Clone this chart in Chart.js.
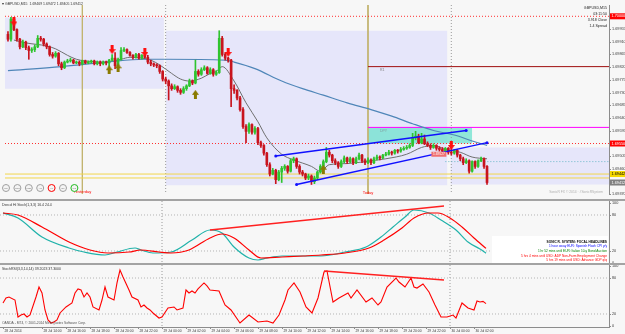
<!DOCTYPE html>
<html>
<head>
<meta charset="utf-8">
<script src="https://cdn.jsdelivr.net/npm/chart.js@4.4.0/dist/chart.umd.min.js"></script>
<style>
body{margin:0;background:#f7f7f7}
#wrap{position:relative;width:625px;height:334px;overflow:hidden;background:#f7f7f7}
#wrap canvas{position:absolute;left:0}
.sep{position:absolute;left:0;width:625px;height:2px;background:#a3a3a3}
</style>
</head>
<body>
<div id="wrap">
  <canvas id="main" width="625" height="199" style="top:0"></canvas>
  <div class="sep" style="top:199px"></div>
  <canvas id="stoch" width="625" height="62" style="top:201px"></canvas>
  <div class="sep" style="top:263px"></div>
  <canvas id="rsi" width="625" height="69" style="top:265px"></canvas>
</div>
<script>
// GBPUSD M15, 28 Jul 10:45 -> 30 Jul 03:00 (one entry per bar)
const opens = [
  1.69936,1.69919,1.69990,1.69953,1.69919,1.69892,1.69909,1.69889,1.69879,1.69882,
  1.69892,1.69922,1.69919,1.69902,1.69892,1.69865,1.69859,1.69869,1.69832,1.69818,
  1.69838,1.69842,1.69845,1.69835,1.69838,1.69832,1.69842,1.69835,1.69838,1.69842,
  1.69832,1.69838,1.69832,1.69838,1.69835,1.69845,1.69852,1.69825,1.69848,1.69879,
  1.69882,1.69872,1.69862,1.69855,1.69865,1.69852,1.69862,1.69855,1.69838,1.69832,
  1.69828,1.69825,1.69805,1.69778,1.69771,1.69754,1.69744,1.69751,1.69738,1.69731,
  1.69744,1.69754,1.69771,1.69764,1.69805,1.69795,1.69811,1.69818,1.69798,1.69811,
  1.69795,1.69801,1.69922,1.69865,1.69852,1.69845,1.69744,1.69738,1.69711,1.69670,
  1.69610,1.69593,1.69617,1.69590,1.69603,1.69553,1.69543,1.69516,1.69475,1.69442,
  1.69455,1.69422,1.69449,1.69462,1.69469,1.69452,1.69489,1.69496,1.69469,1.69449,
  1.69442,1.69428,1.69435,1.69415,1.69428,1.69449,1.69469,1.69486,1.69519,1.69509,
  1.69489,1.69482,1.69469,1.69486,1.69499,1.69486,1.69496,1.69482,1.69496,1.69509,
  1.69489,1.69482,1.69492,1.69482,1.69496,1.69502,1.69499,1.69509,1.69512,1.69519,
  1.69516,1.69526,1.69523,1.69529,1.69533,1.69536,1.69543,1.69570,1.69576,1.69553,
  1.69566,1.69549,1.69543,1.69536,1.69543,1.69533,1.69529,1.69523,1.69533,1.69519,
  1.69516,1.69526,1.69509,1.69496,1.69482,1.69489,1.69452,1.69486,1.69469,1.69489,
  1.69496,1.69469
];
const highs = [
  1.69946,1.69996,1.69993,1.69956,1.69922,1.69916,1.69912,1.69895,1.69889,1.69899,
  1.69932,1.69929,1.69922,1.69906,1.69895,1.69872,1.69875,1.69872,1.69838,1.69842,
  1.69848,1.69852,1.69848,1.69842,1.69842,1.69845,1.69845,1.69842,1.69845,1.69845,
  1.69842,1.69842,1.69842,1.69842,1.69848,1.69865,1.69872,1.69852,1.69889,1.69889,
  1.69885,1.69875,1.69865,1.69869,1.69869,1.69865,1.69865,1.69862,1.69845,1.69835,
  1.69832,1.69828,1.69808,1.69785,1.69775,1.69761,1.69758,1.69754,1.69744,1.69751,
  1.69758,1.69778,1.69775,1.69845,1.69811,1.69818,1.69825,1.69822,1.69818,1.69815,
  1.69808,1.69949,1.69929,1.69872,1.69855,1.69848,1.69758,1.69741,1.69717,1.69677,
  1.69617,1.69623,1.69620,1.69610,1.69607,1.69559,1.69546,1.69519,1.69482,1.69462,
  1.69459,1.69455,1.69469,1.69475,1.69472,1.69496,1.69502,1.69499,1.69475,1.69455,
  1.69445,1.69442,1.69439,1.69435,1.69452,1.69475,1.69492,1.69536,1.69526,1.69512,
  1.69496,1.69486,1.69492,1.69506,1.69502,1.69502,1.69499,1.69502,1.69516,1.69512,
  1.69496,1.69499,1.69496,1.69502,1.69509,1.69506,1.69512,1.69519,1.69526,1.69523,
  1.69529,1.69529,1.69536,1.69539,1.69543,1.69549,1.69586,1.69593,1.69583,1.69586,
  1.69580,1.69556,1.69549,1.69549,1.69546,1.69539,1.69536,1.69536,1.69536,1.69536,
  1.69529,1.69529,1.69512,1.69502,1.69496,1.69492,1.69489,1.69489,1.69492,1.69502,
  1.69499,1.69472
];
const lows = [
  1.69912,1.69912,1.69949,1.69912,1.69885,1.69889,1.69882,1.69848,1.69872,1.69875,
  1.69889,1.69912,1.69895,1.69885,1.69859,1.69852,1.69855,1.69825,1.69811,1.69815,
  1.69835,1.69838,1.69832,1.69832,1.69825,1.69828,1.69832,1.69832,1.69835,1.69828,
  1.69828,1.69825,1.69828,1.69828,1.69818,1.69842,1.69815,1.69822,1.69845,1.69875,
  1.69869,1.69859,1.69848,1.69852,1.69848,1.69848,1.69852,1.69832,1.69825,1.69822,
  1.69818,1.69798,1.69771,1.69761,1.69704,1.69738,1.69741,1.69731,1.69724,1.69727,
  1.69738,1.69751,1.69758,1.69761,1.69788,1.69791,1.69808,1.69795,1.69795,1.69788,
  1.69791,1.69798,1.69859,1.69845,1.69838,1.69680,1.69727,1.69704,1.69664,1.69603,
  1.69553,1.69586,1.69583,1.69583,1.69546,1.69536,1.69509,1.69469,1.69435,1.69439,
  1.69408,1.69418,1.69412,1.69455,1.69445,1.69449,1.69482,1.69462,1.69442,1.69435,
  1.69422,1.69422,1.69405,1.69408,1.69422,1.69445,1.69462,1.69482,1.69502,1.69482,
  1.69475,1.69462,1.69465,1.69482,1.69479,1.69482,1.69475,1.69479,1.69492,1.69482,
  1.69475,1.69479,1.69475,1.69479,1.69492,1.69492,1.69496,1.69506,1.69509,1.69509,
  1.69512,1.69516,1.69519,1.69526,1.69529,1.69533,1.69539,1.69563,1.69549,1.69549,
  1.69546,1.69539,1.69529,1.69533,1.69526,1.69523,1.69519,1.69519,1.69512,1.69509,
  1.69512,1.69502,1.69489,1.69475,1.69479,1.69445,1.69449,1.69462,1.69465,1.69486,
  1.69462,1.69405
];
const closes = [
  1.69919,1.69990,1.69953,1.69919,1.69892,1.69909,1.69889,1.69879,1.69882,1.69892,
  1.69922,1.69919,1.69902,1.69892,1.69865,1.69859,1.69869,1.69832,1.69818,1.69838,
  1.69842,1.69845,1.69835,1.69838,1.69832,1.69842,1.69835,1.69838,1.69842,1.69832,
  1.69838,1.69832,1.69838,1.69835,1.69845,1.69852,1.69825,1.69848,1.69879,1.69882,
  1.69872,1.69862,1.69855,1.69865,1.69852,1.69862,1.69855,1.69838,1.69832,1.69828,
  1.69825,1.69805,1.69778,1.69771,1.69754,1.69744,1.69751,1.69738,1.69731,1.69744,
  1.69754,1.69771,1.69764,1.69805,1.69795,1.69811,1.69818,1.69798,1.69811,1.69795,
  1.69801,1.69922,1.69865,1.69852,1.69845,1.69744,1.69738,1.69711,1.69670,1.69610,
  1.69593,1.69617,1.69590,1.69603,1.69553,1.69543,1.69516,1.69475,1.69442,1.69455,
  1.69422,1.69449,1.69462,1.69469,1.69452,1.69489,1.69496,1.69469,1.69449,1.69442,
  1.69428,1.69435,1.69415,1.69428,1.69449,1.69469,1.69486,1.69519,1.69509,1.69489,
  1.69482,1.69469,1.69486,1.69499,1.69486,1.69496,1.69482,1.69496,1.69509,1.69489,
  1.69482,1.69492,1.69482,1.69496,1.69502,1.69499,1.69509,1.69512,1.69519,1.69516,
  1.69526,1.69523,1.69529,1.69533,1.69536,1.69543,1.69570,1.69576,1.69553,1.69566,
  1.69549,1.69543,1.69536,1.69543,1.69533,1.69529,1.69523,1.69533,1.69519,1.69516,
  1.69526,1.69509,1.69496,1.69482,1.69489,1.69452,1.69486,1.69469,1.69489,1.69496,
  1.69469,1.69412
];

// moving averages, [bar, price]
const fastMA = [[2,1.69916],[6,1.69906],[13,1.69895],[16,1.69885],[20,1.69862],[23,1.69848],[26,1.69842],[33,1.69838],[38,1.69848],[41,1.69855],[45,1.69852],[48,1.69845],[51,1.69828],[55,1.69798],[58,1.69778],[61,1.69771],[65,1.69781],[68,1.69798],[70,1.69805],[72,1.69822],[76,1.69771],[80,1.69694],[84,1.69627],[87,1.69570],[92,1.69512],[96,1.69492],[102,1.69469],[105,1.69452],[108,1.69475],[114,1.69479],[120,1.69486],[127,1.69496],[134,1.69512],[139,1.69536],[143,1.69543],[147,1.69529],[152,1.69519],[156,1.69502],[161,1.69496]];
const slowMA = [[0,1.69808],[18,1.69822],[33,1.69838],[46,1.69848],[53,1.69848],[73,1.69845],[76,1.69838],[83,1.69815],[92,1.69771],[99,1.69744],[106,1.69721],[114,1.69694],[122,1.69670],[129,1.69647],[136,1.69620],[143,1.69596],[150,1.69580],[156,1.69559],[161,1.69543]];

// chart objects
const upperTrend = [[90,1.69506],[154,1.69596]];
const lowerTrend = [[97,1.69405],[161,1.69553]];
const sellArrows = [[2,1.69980],[35,1.69882],[46,1.69872],[74,1.69872],[149,1.69543]];
const buyArrows = [[34,1.69811],[37,1.69818],[63,1.69724],[106,1.69459]];
const dayRanges = [[-1,52.4,1.69996,1.69744],[53,147.7,1.69949,1.69402],[148.7,202,1.69536,1.69405]];
const roundLevels = [1.70000, 1.69550];
const yellowLevels = [1.69442, 1.69428];
const r1Level = 1.69822, dpyLevel = 1.69607, todayOpen = 1.69486;
const dpyBox = [121, 156];
const yesterdayBar = 25, todayBar = 121;
const daySeparators = [53, 149];
const priceTicks = [1.69955,1.69910,1.69865,1.69820,1.69775,1.69730,1.69685,1.69640,1.69595,1.69550,1.69505,1.69460,1.69415,1.69370];

// oscillators, [bar, value]
const stochMain = [[0,83.3],[5,75],[13,43.3],[22,25],[27,18.3],[34,13.3],[38,18.3],[44,25],[46,21.7],[50,16.7],[56,18.3],[63,38.3],[69,55],[73,50],[77,26.7],[82,8.3],[85,5],[88,8.3],[93,11.7],[100,11.7],[106,11.7],[114,18.3],[121,26.7],[126,43.3],[130,60],[134,76.7],[137,88.3],[142,83.3],[146,71.7],[151,55],[155,35],[159,23.3],[161,16.4]];
const stochSignal = [[0,83.3],[5,80],[13,60],[22,35],[29,21.7],[35,16.7],[42,18.3],[46,21.7],[52,18.3],[56,16.7],[62,21.7],[69,41.7],[73,48.3],[77,41.7],[82,21.7],[86,8.3],[93,10],[100,11.7],[106,13.3],[114,16.7],[122,25],[127,38.3],[133,58.3],[137,75],[142,83.3],[145,83.3],[149,75],[153,60],[157,41.7],[161,24.4]];
const stochTrend = [[69,55],[147,95]];
const rsiLine = [[0,38.3],[1,46.7],[2,48.3],[4,43.3],[5,15],[6,18.3],[7,20],[8,15],[9,18.3],[11,48.3],[12,65],[13,55],[14,26.7],[15,10],[16,5],[17,6.7],[18,10],[19,21.7],[21,31.7],[23,38.3],[24,55],[25,61.7],[26,60],[27,48.3],[28,55],[29,48.3],[30,31.7],[32,26.7],[33,43.3],[34,65],[35,48.3],[37,43.3],[38,71.7],[39,93.3],[40,81.7],[42,60],[43,48.3],[45,43.3],[46,31.7],[47,35],[48,30],[49,26.7],[50,21.7],[52,13.3],[53,15],[55,30],[57,31.7],[58,26.7],[60,30],[61,60],[62,55],[63,58.3],[64,55],[65,61.7],[67,71.7],[68,66.7],[69,60],[72,58.3],[74,35],[76,26.7],[79,5],[82,18.3],[85,6.7],[88,8.3],[90,5],[92,18.3],[94,43.3],[95,60],[97,71.7],[99,56.7],[101,31.7],[103,21.7],[105,46.7],[107,90],[108,91.7],[110,40],[112,46.7],[115,55],[116,46.7],[118,60],[121,40],[123,46.7],[125,35],[126,40],[128,65],[131,80],[132,73.3],[134,65],[136,80],[137,65],[138,63.3],[140,70],[142,56.7],[144,35],[146,15],[148,15],[150,18.3],[151,13.3],[153,38.3],[155,30],[157,26.7],[158,41.7],[159,40],[160,41],[161,37.3]];
const rsiTrend = [[107,91.7],[147,76.7]];
const oscLevels = [80, 20];
const oscTicks = [100, 80, 20, 0];

const timeTicks = [[0,'28 Jul 2014'],[13,'28 Jul 14:00'],[21,'28 Jul 16:00'],[29,'28 Jul 18:00'],[37,'28 Jul 20:00'],[45,'28 Jul 22:00'],[53,'29 Jul 00:00'],[61,'29 Jul 02:00'],[69,'29 Jul 04:00'],[77,'29 Jul 06:00'],[85,'29 Jul 08:00'],[93,'29 Jul 10:00'],[101,'29 Jul 12:00'],[109,'29 Jul 14:00'],[117,'29 Jul 16:00'],[125,'29 Jul 18:00'],[133,'29 Jul 20:00'],[141,'29 Jul 22:00'],[149,'30 Jul 00:00'],[157,'30 Jul 02:00']];

const headlines = [
  ['SONIC R. SYSTEM: FOCAL HEADLINES', '#000000', 'bold'],
  ['1 hour away EUR: Spanish Flash CPI y/y', '#0000ff', ''],
  ['1 hr 52 mins until EUR: Italian 10-y Bond Auction', '#008000', ''],
  ['5 hrs 4 mins until USD: ADP Non-Farm Employment Change', '#ff0000', ''],
  ['5 hrs 19 mins until USD: Advance GDP q/q', '#ff0000', '']
];

const UP = '#2fc42f', DOWN = '#c8141e';
const FONT = '"Liberation Sans", Arial, sans-serif';
const bars = closes.map((c, i) => i);
const last = closes.length - 1;

Chart.defaults.elements.point.radius = 0;

function txt(ctx, s, x, y, color, size, align, weight) {
  ctx.save();
  ctx.font = (weight ? weight + ' ' : '') + size + 'px ' + FONT;
  ctx.fillStyle = color;
  ctx.textAlign = align || 'left';
  ctx.textBaseline = 'middle';
  ctx.fillText(s, x, y);
  ctx.restore();
}

function rightAxis(chart, ticks, fmt) {
  const {ctx, chartArea: a, scales: {y}} = chart;
  ctx.save();
  ctx.strokeStyle = '#8c8c8c';
  ctx.lineWidth = 1;
  ctx.beginPath();
  ctx.moveTo(a.right + 0.5, a.top);
  ctx.lineTo(a.right + 0.5, a.bottom);
  ctx.stroke();
  ticks.forEach(v => {
    const py = Math.round(y.getPixelForValue(v)) + 0.5;
    if (py > a.bottom + 2) return;
    ctx.beginPath();
    ctx.moveTo(a.right, py);
    ctx.lineTo(a.right + 2, py);
    ctx.stroke();
    txt(ctx, fmt(v), a.right + 3, py - 0.5, '#3a3a3a', 3.8);
  });
  ctx.restore();
}

function tag(chart, v, bg, fg) {
  const {ctx, chartArea: a, scales: {y}} = chart;
  const py = y.getPixelForValue(v);
  ctx.fillStyle = bg;
  ctx.fillRect(a.right + 1, py - 3, chart.width - a.right - 1, 6);
  txt(ctx, v.toFixed(5), a.right + 2.5, py, fg, 3.8);
}

function arrowImg(color, down) {
  const c = document.createElement('canvas');
  c.width = 7; c.height = 9;
  const g = c.getContext('2d');
  g.fillStyle = color;
  g.beginPath();
  if (down) {
    g.moveTo(2, 0); g.lineTo(5, 0); g.lineTo(5, 4); g.lineTo(7, 4); g.lineTo(3.5, 9); g.lineTo(0, 4); g.lineTo(2, 4);
  } else {
    g.moveTo(2, 9); g.lineTo(5, 9); g.lineTo(5, 5); g.lineTo(7, 5); g.lineTo(3.5, 0); g.lineTo(0, 5); g.lineTo(2, 5);
  }
  g.closePath();
  g.fill();
  return c;
}

const pts = arr => arr.map(([x, y]) => ({x, y}));
const seg = (x0, x1, v) => [{x: x0, y: v}, {x: x1, y: v}];
function line(data, color, width, dash, order, extra) {
  return Object.assign({type: 'line', data, borderColor: color, borderWidth: width, borderDash: dash || [], pointRadius: 0, fill: false, order}, extra || {});
}
function box(x0, x1, top, bottom, color, order) {
  return {type: 'line', data: seg(x0, x1, top), borderWidth: 0, borderColor: 'rgba(0,0,0,0)', backgroundColor: color, fill: {value: bottom}, pointRadius: 0, order};
}

// background + hand drawn texts / axis for one panel
function decor(draw) {
  return {
    id: 'decor',
    beforeDraw(chart) {
      const ctx = chart.ctx;
      ctx.save();
      ctx.fillStyle = '#f7f7f7';
      ctx.fillRect(0, 0, chart.width, chart.height);
      ctx.restore();
    },
    afterDraw(chart) {
      draw(chart, chart.ctx);
    }
  };
}

function baseOptions(ymin, ymax, bottomPad) {
  return {
    responsive: false,
    animation: false,
    events: [],
    layout: {padding: {left: 0, right: 16, top: 0, bottom: bottomPad}},
    plugins: {legend: {display: false}, tooltip: {enabled: false}},
    scales: {
      x: {type: 'linear', min: -1, max: 202, display: false, offset: false},
      y: {type: 'linear', min: ymin, max: ymax, display: false}
    }
  };
}

// ---------- main price panel ----------
const PMAX = 1.70040, PMIN = 1.6937136;
const mainSets = [];
dayRanges.forEach(r => mainSets.push(box(r[0], r[1], r[2], r[3], '#e6e6fa', 30)));
mainSets.push(box(dpyBox[0], dpyBox[1], dpyLevel, roundLevels[1], 'rgba(110,225,205,0.75)', 25));
roundLevels.forEach(v => mainSets.push(line(seg(-1, 202, v), '#ff3030', 1, [1, 2], 20)));
yellowLevels.forEach(v => mainSets.push(line(seg(-1, 202, v), '#f2d64b', 1, [], 20)));
mainSets.push(line(seg(todayBar, 202, r1Level), '#a01010', 1, [], 20));
mainSets.push(line(seg(todayBar, 202, dpyLevel), '#ff00ff', 1, [], 20));
mainSets.push(line(seg(147, 202, todayOpen), '#6ab7c9', 1, [1, 2], 20));
[yesterdayBar, todayBar].forEach(b => mainSets.push(line([{x: b, y: PMAX}, {x: b, y: PMIN}], '#c2b470', 1, [], 20)));
daySeparators.forEach(b => mainSets.push(line([{x: b, y: PMAX}, {x: b, y: PMIN}], '#9a9a9a', 1, [1, 2], 20)));
mainSets.push(line(pts(slowMA), '#4f86b8', 1.2, [], 15, {cubicInterpolationMode: 'monotone'}));
mainSets.push(line(pts(fastMA), '#707070', 1, [], 15, {cubicInterpolationMode: 'monotone'}));
mainSets.push({type: 'bar', data: bars.map(i => ({x: i, y: [lows[i], highs[i]]})), backgroundColor: c => closes[c.dataIndex] >= opens[c.dataIndex] ? UP : DOWN, barThickness: 1, grouped: false, order: 4});
mainSets.push({type: 'bar', data: bars.map(i => ({x: i, y: [opens[i], closes[i]]})), backgroundColor: c => closes[c.dataIndex] >= opens[c.dataIndex] ? UP : DOWN, barThickness: 2, minBarLength: 1, grouped: false, order: 3});
[upperTrend, lowerTrend].forEach(t => mainSets.push(line(pts(t), '#1010ff', 1.4, [], 2, {pointRadius: 1.5, pointBackgroundColor: '#1010ff', pointBorderWidth: 0})));
mainSets.push({type: 'line', data: pts(sellArrows), showLine: false, pointStyle: arrowImg('#ff1010', true), pointRadius: 3, order: 1});
mainSets.push({type: 'line', data: pts(buyArrows), showLine: false, pointStyle: arrowImg('#8a7a00', false), pointRadius: 3, order: 1});

new Chart(document.getElementById('main'), {
  type: 'bar',
  data: {datasets: mainSets},
  options: baseOptions(PMIN, PMAX, 0),
  plugins: [decor((chart, ctx) => {
    const {chartArea: a, scales: {x, y}} = chart;
    rightAxis(chart, priceTicks, v => v.toFixed(5));
    tag(chart, roundLevels[0], '#ff0000', '#ffffff');
    tag(chart, roundLevels[1], '#ff0000', '#ffffff');
    tag(chart, yellowLevels[0], '#f5d800', '#000000');
    tag(chart, closes[last], '#808080', '#ffffff');
    txt(ctx, '\u25BE GBPUSD,M15  ' + [opens, highs, lows, closes].map(s => s[last].toFixed(5)).join(' '), 2, 4, '#333333', 3.5);
    ['GBPUSD,M15', '03:11:50', '3.918 Close', '1.4 Spread'].forEach((s, k) => txt(ctx, s, a.right - 2, 8 + k * 6, '#222222', 3.6, 'right'));
    txt(ctx, 'R1', x.getPixelForValue(todayBar + 4), y.getPixelForValue(r1Level) + 3.5, '#808080', 3.5);
    txt(ctx, 'DPY', x.getPixelForValue(todayBar + 4), y.getPixelForValue(dpyLevel) + 4, '#7fa0a0', 3.5);
    txt(ctx, 'Yesterday', x.getPixelForValue(yesterdayBar), a.bottom - 2, '#ff0000', 4, 'center');
    txt(ctx, 'Today', x.getPixelForValue(todayBar), a.bottom - 1, '#ff0000', 4, 'center');
    // red price flag on the channel
    const fx = x.getPixelForValue(145), fy = y.getPixelForValue(1.69512);
    ctx.fillStyle = '#f07070';
    ctx.fillRect(fx - 8, fy - 2.5, 15, 5);
    txt(ctx, '1.69527', fx - 0.5, fy, '#ffffff', 3.3, 'center');
    // timeframe buttons
    ['M5', 'M15', 'M30', 'H1', 'H4', 'D1', 'W1'].forEach((s, k) => {
      const cx = 6 + k * 11.4, cy = a.bottom - 6;
      ctx.beginPath();
      ctx.arc(cx, cy, 3.5, 0, Math.PI * 2);
      ctx.fillStyle = '#f4f4f4';
      ctx.fill();
      ctx.lineWidth = 1;
      ctx.strokeStyle = k === 4 ? '#ff0000' : k === 6 ? '#22bb22' : '#a0a0a0';
      ctx.stroke();
      txt(ctx, s, cx, cy, '#707070', 2.4, 'center');
    });
    txt(ctx, 'SonicR FX \u00A9 2014 \u00B7 #SonicRSystem', a.right - 6, a.bottom - 2, '#b0b0b0', 3.3, 'right');
  })]
});

// ---------- stochastic panel ----------
const oscSets = (lo, hi) => {
  const s = oscLevels.map(v => line(seg(-1, 202, v), '#b4b4b4', 1, [1, 2], 20));
  daySeparators.forEach(b => s.push(line([{x: b, y: hi}, {x: b, y: lo}], '#9a9a9a', 1, [1, 2], 20)));
  return s;
};
const stochSets = oscSets(0, 103.33);
stochSets.push(line(pts(stochMain), '#20b2aa', 1.2, [], 5, {cubicInterpolationMode: 'monotone'}));
stochSets.push(line(pts(stochSignal), '#ff0000', 1.2, [], 4, {cubicInterpolationMode: 'monotone'}));
stochSets.push(line(pts(stochTrend), '#ff2020', 1.3, [], 3));

new Chart(document.getElementById('stoch'), {
  type: 'line',
  data: {datasets: stochSets},
  options: baseOptions(0, 103.33, 0),
  plugins: [decor((chart, ctx) => {
    const a = chart.chartArea;
    rightAxis(chart, oscTicks, v => String(v));
    txt(ctx, 'Dsncd Hi Stoch(1,3,3) ' + stochMain[stochMain.length - 1][1].toFixed(1) + ' ' + stochSignal[stochSignal.length - 1][1].toFixed(1), 2, 4, '#333333', 3.5);
    ctx.fillStyle = '#ffffff';
    ctx.fillRect(a.right - 117, 35, 116, 27);
    headlines.forEach((h, k) => txt(ctx, h[0], a.right - 2, 41 + k * 4.6, h[1], 3.2, 'right', h[2]));
  })]
});

// ---------- stoch rsi panel + time axis ----------
const rsiSets = oscSets(-1.67, 101.67);
rsiSets.push(line(pts(rsiLine), '#ff0000', 1.1, [], 4));
rsiSets.push(line(pts(rsiTrend), '#ff2020', 1.3, [], 3));

new Chart(document.getElementById('rsi'), {
  type: 'line',
  data: {datasets: rsiSets},
  options: baseOptions(-1.67, 101.67, 7),
  plugins: [decor((chart, ctx) => {
    const {chartArea: a, scales: {x}} = chart;
    rightAxis(chart, oscTicks, v => String(v));
    const lastRsi = rsiLine[rsiLine.length - 1][1];
    txt(ctx, 'StochRSI(3,3,14,14) 39.2023 ' + lastRsi.toFixed(4), 2, 4, '#333333', 3.5);
    txt(ctx, 'OANDA - MT4, \u00A9 2001-2014 MetaQuotes Software Corp.', 2, a.bottom - 4, '#555555', 3.3);
    ctx.strokeStyle = '#8c8c8c';
    ctx.lineWidth = 1;
    ctx.beginPath();
    ctx.moveTo(0, a.bottom + 0.5);
    ctx.lineTo(a.right + 1, a.bottom + 0.5);
    ctx.stroke();
    timeTicks.forEach(([b, s]) => {
      const px = Math.round(x.getPixelForValue(b)) + 0.5;
      ctx.beginPath();
      ctx.moveTo(px, a.bottom);
      ctx.lineTo(px, a.bottom + 2);
      ctx.stroke();
      txt(ctx, s, px + 1, a.bottom + 4, '#3a3a3a', 3.3, 'left');
    });
  })]
});
</script>
</body>
</html>
